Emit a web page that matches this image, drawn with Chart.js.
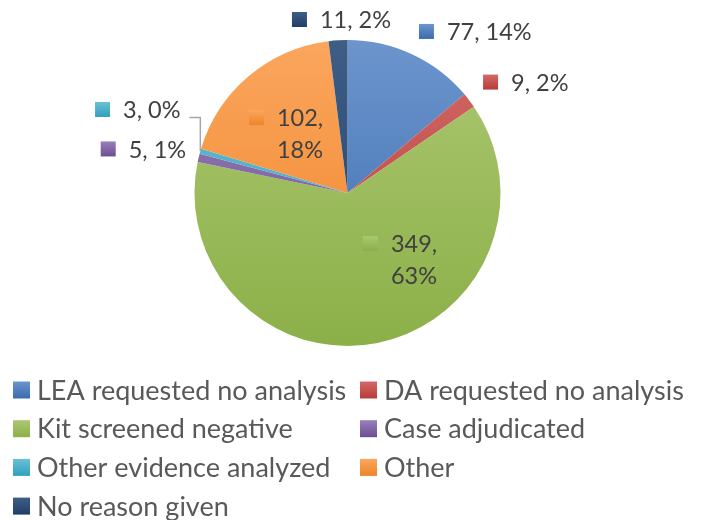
<!DOCTYPE html>
<html>
<head>
<meta charset="utf-8">
<title>Reasons kits were not analyzed</title>
<script src="https://cdn.jsdelivr.net/npm/chart.js@4.4.0/dist/chart.umd.min.js"></script>
<style>
  html, body { margin: 0; padding: 0; background: #ffffff; }
  #wrap { width: 701px; height: 520px; }
</style>
</head>
<body>
<div id="wrap"><canvas id="reasonChart" width="701" height="520"></canvas></div>
<script>
// data
const categories = ['LEA requested no analysis', 'DA requested no analysis', 'Kit screened negative',
    'Case adjudicated', 'Other evidence analyzed', 'Other', 'No reason given'];
const counts = [77, 9, 349, 5, 3, 102, 11];
const percentLabels = ['14%', '2%', '63%', '1%', '0%', '18%', '2%'];

// office style gradient, light at the top, darker at the bottom
const topColors = ['#6c95cd', '#d26a67', '#abc771', '#9780b8', '#6cc0d6', '#fba65e', '#3e5e86'];
const bottomColors = ['#3a6bae', '#b83b37', '#8cb048', '#6d4f94', '#2fa0bd', '#ee8428', '#1f3f6a'];

// label anchors in pie radii from the centre (key left edge, key middle)
const labelSpots = [[0.467, -1.056], [0.886, -0.725], [0.101, 0.330], [-1.613, -0.288],
    [-1.650, -0.546], [-0.644, -0.493], [-0.363, -1.134]];
const twoLines = [false, false, true, false, false, true, false];
const withLeader = [false, false, false, false, true, false, false];

function sliceGradient(c) {
    const area = c.chart.chartArea;
    const i = c.dataIndex;
    if (!area) return topColors[i];
    const g = c.chart.ctx.createLinearGradient(0, area.top, 0, area.bottom);
    g.addColorStop(0, topColors[i]);
    g.addColorStop(1, bottomColors[i]);
    return g;
}

function keyBox(ctx, i, x, y, size) {
    const g = ctx.createLinearGradient(0, y, 0, y + size);
    g.addColorStop(0, topColors[i]);
    g.addColorStop(1, bottomColors[i]);
    ctx.fillStyle = g;
    ctx.fillRect(x, y, size, size);
}

// data labels with little colour keys, Excel style
const dataLabels = {
    id: 'dataLabels',
    afterDatasetsDraw(chart) {
        const ctx = chart.ctx;
        const arcs = chart.getDatasetMeta(0).data;
        const cx = arcs[0].x, cy = arcs[0].y, r = arcs[0].outerRadius;
        ctx.save();
        ctx.font = '23.5px Lato';
        ctx.textBaseline = 'middle';
        ctx.textAlign = 'left';
        counts.forEach((v, i) => {
            const kx = cx + labelSpots[i][0] * r;
            const ky = cy + labelSpots[i][1] * r;
            keyBox(ctx, i, kx, ky - 7.5, 15);
            ctx.fillStyle = '#404040';
            const tx = kx + 28;
            let endX;
            if (twoLines[i]) {
                ctx.fillText(v + ',', tx, ky + 1);
                ctx.fillText(percentLabels[i], tx, ky + 33);
                endX = tx + ctx.measureText(v + ',').width;
            } else {
                const s = v + ', ' + percentLabels[i];
                ctx.fillText(s, tx, ky + 1);
                endX = tx + ctx.measureText(s).width;
            }
            if (withLeader[i]) {
                const a = arcs[i];
                const mid = (a.startAngle + a.endAngle) / 2;
                const ex = cx + Math.cos(mid) * r;
                const ey = cy + Math.sin(mid) * r;
                ctx.strokeStyle = '#a6a6a6';
                ctx.lineWidth = 1.5;
                ctx.beginPath();
                ctx.moveTo(endX + 9, ky + 8);
                ctx.lineTo(ex, ky + 8);
                ctx.lineTo(ex, ey);
                ctx.stroke();
            }
        });
        ctx.restore();
    }
};

// two column legend under the pie
const sideLegend = {
    id: 'sideLegend',
    afterDraw(chart) {
        const ctx = chart.ctx;
        ctx.save();
        ctx.font = '27px Lato';
        ctx.textBaseline = 'middle';
        chart.data.labels.forEach((name, i) => {
            const col = i % 2, row = Math.floor(i / 2);
            const x = col === 0 ? 13 : 360;
            const y = 390 + row * 38.7;
            keyBox(ctx, i, x, y - 8.5, 17);
            ctx.fillStyle = '#595959';
            ctx.fillText(name, x + 24, y + 1);
        });
        ctx.restore();
    }
};

const reasonChart = new Chart(document.getElementById('reasonChart'), {
    type: 'pie',
    data: {
        labels: categories,
        datasets: [{
            data: counts,
            backgroundColor: sliceGradient,
            borderWidth: 0,
            hoverOffset: 0
        }]
    },
    options: {
        responsive: false,
        animation: false,
        events: [],
        layout: {
            padding: { left: 194.5, right: 200.5, top: 40, bottom: 174 }
        },
        plugins: {
            legend: { display: false },
            tooltip: { enabled: false }
        }
    },
    plugins: [dataLabels, sideLegend]
});
</script>
</body>
</html>
